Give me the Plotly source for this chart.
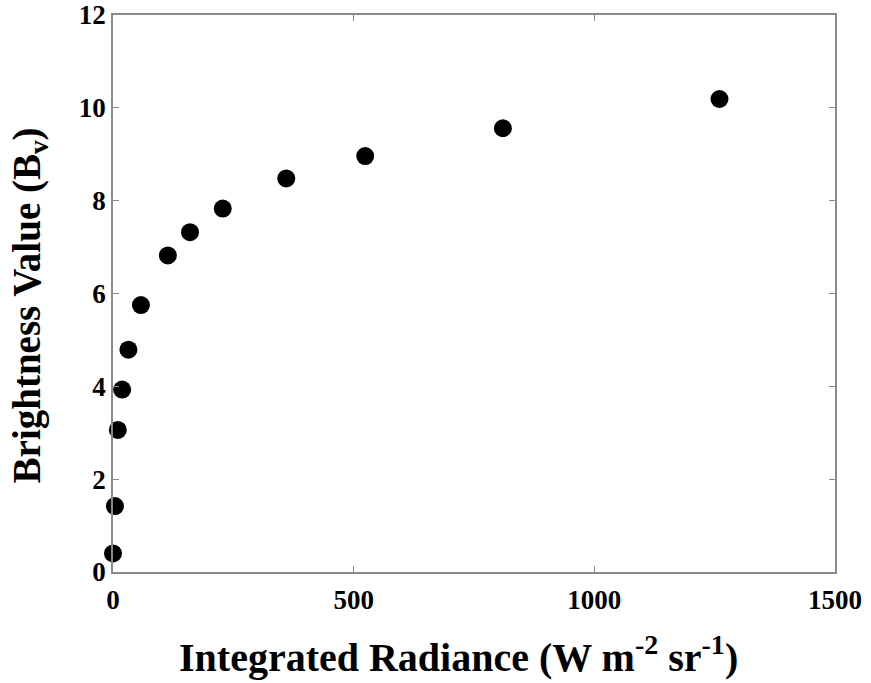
import plotly.graph_objects as go

radiance = [0, 4, 10, 19, 32, 58, 114, 160, 228, 360, 524, 810, 1260]
brightness = [0.40, 1.42, 3.06, 3.93, 4.79, 5.75, 6.82, 7.32, 7.83, 8.48, 8.96, 9.56, 10.19]

x_ticks = [0, 500, 1000, 1500]
y_ticks = [0, 2, 4, 6, 8, 10, 12]

x_title = "<b>Integrated Radiance (W m<sup>-2</sup> sr<sup>-1</sup>)</b>"
y_title = "<b>Brightness Value (B<sub>v</sub>)</b>"

font_family = "Liberation Serif"

fig = go.Figure()
fig.add_trace(go.Scatter(
    x=radiance, y=brightness, mode="markers",
    marker=dict(size=18, color="black", line=dict(width=0)),
    showlegend=False, cliponaxis=False,
))

axis_common = dict(
    showgrid=False, zeroline=False, showline=True, linecolor="#8a8a8a", linewidth=1.5,
    mirror="ticks", ticks="inside", ticklen=6, tickcolor="#8a8a8a", tickwidth=1,
    tickfont=dict(family=font_family, size=27, color="black"),
    automargin=False,
)

fig.update_xaxes(range=[0, 1500], tickvals=x_ticks,
                 ticktext=[f"<b>{v}</b>" for v in x_ticks], ticklabelstandoff=3, **axis_common)
fig.update_yaxes(range=[0, 12], tickvals=y_ticks,
                 ticktext=[f"<b>{v}</b>" for v in y_ticks], **axis_common)

fig.add_annotation(text=x_title, xref="paper", yref="paper", x=0.478, y=-0.149,
                   xanchor="center", yanchor="middle", showarrow=False,
                   font=dict(family=font_family, size=40, color="black"))
fig.add_annotation(text=y_title, xref="paper", yref="paper", x=-0.116, y=0.479,
                   xanchor="center", yanchor="middle", showarrow=False, textangle=-90,
                   font=dict(family=font_family, size=39, color="black"))

fig.update_layout(
    width=871, height=683,
    margin=dict(l=113, r=36, t=15, b=111),
    paper_bgcolor="white", plot_bgcolor="white",
)

fig.write_html("out.html")
